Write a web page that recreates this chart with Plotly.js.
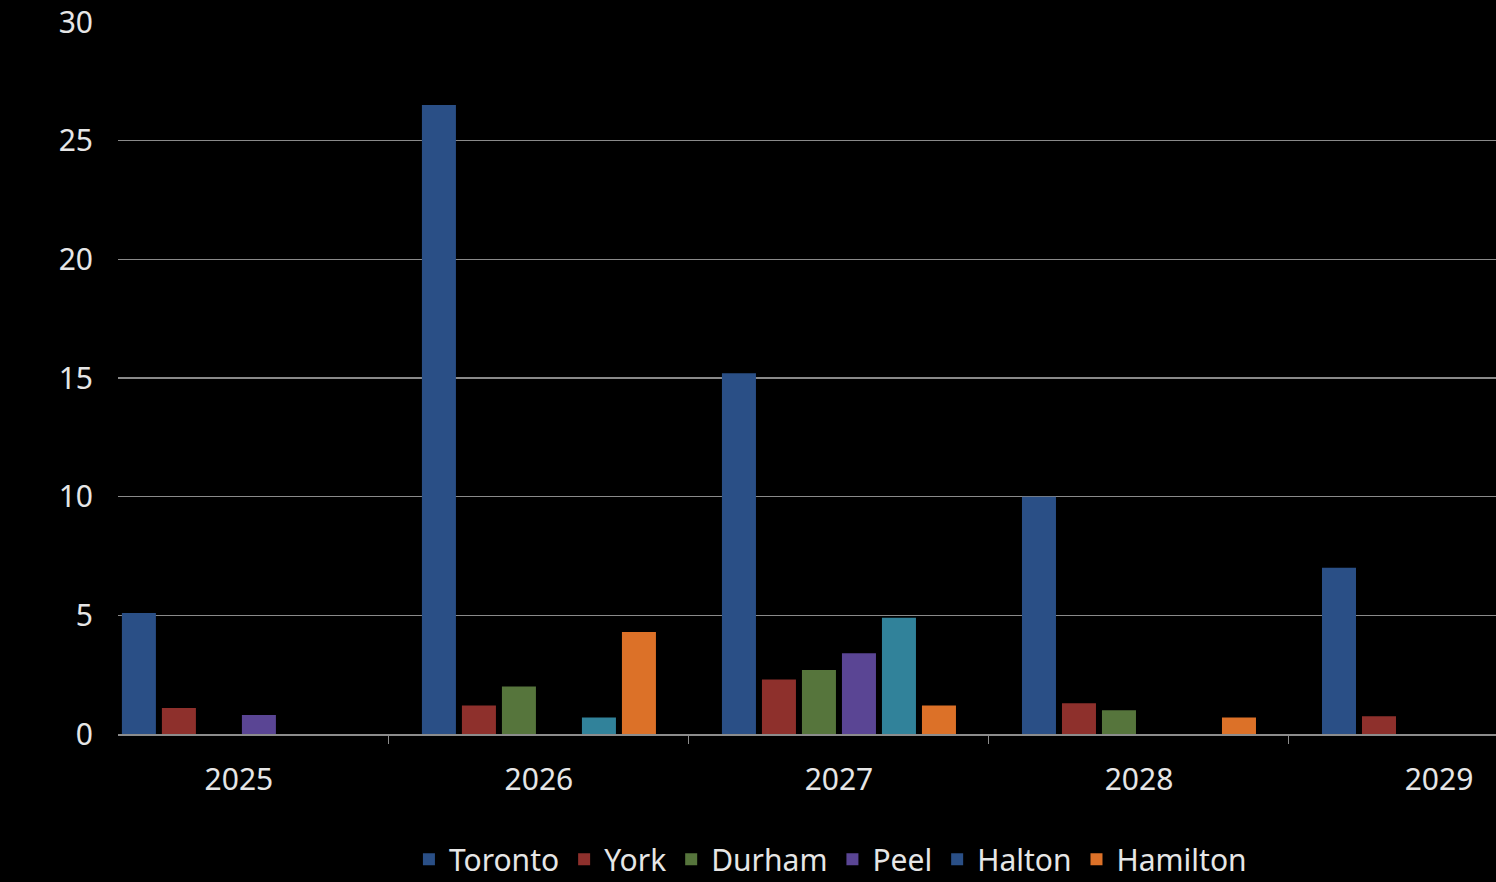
<!DOCTYPE html>
<html>
<head>
<meta charset="utf-8">
<script src="https://cdn.plot.ly/plotly-3.0.1.min.js"></script>
<style>
html,body{margin:0;padding:0;background:#000;}
#chart{width:1496px;height:882px;}
</style>
</head>
<body>
<div id="chart"></div>
<script>
const years = ['2025', '2026', '2027', '2028', '2029'];
const toronto  = [5.1, 26.5, 15.2, 10.0, 7.0];
const york     = [1.1, 1.2, 2.3, 1.3, 0.75];
const durham   = [0, 2.0, 2.7, 1.0, 0];
const peel     = [0.8, 0, 3.4, 0, 0];
const halton   = [0, 0.7, 4.9, 0, 0];
const hamilton = [0, 4.3, 1.2, 0.7, 0];
const yTicks   = [0, 5, 10, 15, 20, 25, 30];

const series = [
  {name: 'Toronto',  y: toronto,  color: '#2a4f86'},
  {name: 'York',     y: york,     color: '#8e302c'},
  {name: 'Durham',   y: durham,   color: '#56753c'},
  {name: 'Peel',     y: peel,     color: '#5a4594'},
  {name: 'Halton',   y: halton,   color: ['#2a4f86', '#31829a', '#31829a', '#31829a', '#31829a']},
  {name: 'Hamilton', y: hamilton, color: '#dc7128'}
];

const traces = series.map(s => ({
  type: 'bar',
  name: s.name,
  x: years,
  y: s.y,
  marker: {color: s.color, line: {width: 0}},
  hoverinfo: 'x+y+name'
}));

const fontFam = '"Noto Sans", "Open Sans", sans-serif';
const layout = {
  width: 1496,
  height: 882,
  paper_bgcolor: '#000',
  plot_bgcolor: '#000',
  margin: {l: 118, r: 0, t: 22, b: 148, autoexpand: false},
  barmode: 'group',
  bargap: 0.2,
  bargroupgap: 0.15,
  font: {family: fontFam, color: '#e6e6e6', size: 30},
  xaxis: {
    type: 'category',
    range: [-0.403, 4.19],
    showgrid: false,
    showline: true,
    linecolor: '#8c8c8c',
    linewidth: 1.5,
    ticks: 'outside',
    tickson: 'boundaries',
    ticklen: 8,
    tickcolor: '#8c8c8c',
    tickwidth: 1,
    ticklabelstandoff: 18,
    tickfont: {family: fontFam, size: 30, color: '#e6e6e6'},
    zeroline: false
  },
  yaxis: {
    range: [0, 30],
    tickvals: yTicks,
    ticktext: yTicks.map(String),
    showgrid: true,
    gridcolor: '#8a8a8a',
    gridwidth: 1.2,
    zeroline: false,
    showline: false,
    ticks: '',
    ticklabelstandoff: 24,
    tickfont: {family: fontFam, size: 30, color: '#e6e6e6'}
  },
  showlegend: true,
  legend: {
    orientation: 'h',
    x: 0.517,
    xanchor: 'center',
    y: -0.176,
    yanchor: 'middle',
    font: {family: fontFam, size: 30, color: '#e6e6e6'},
    bgcolor: 'rgba(0,0,0,0)',
    itemwidth: 30,
    tracegroupgap: 0
  }
};

Plotly.newPlot('chart', traces, layout, {displayModeBar: false, staticPlot: true});
</script>
</body>
</html>
